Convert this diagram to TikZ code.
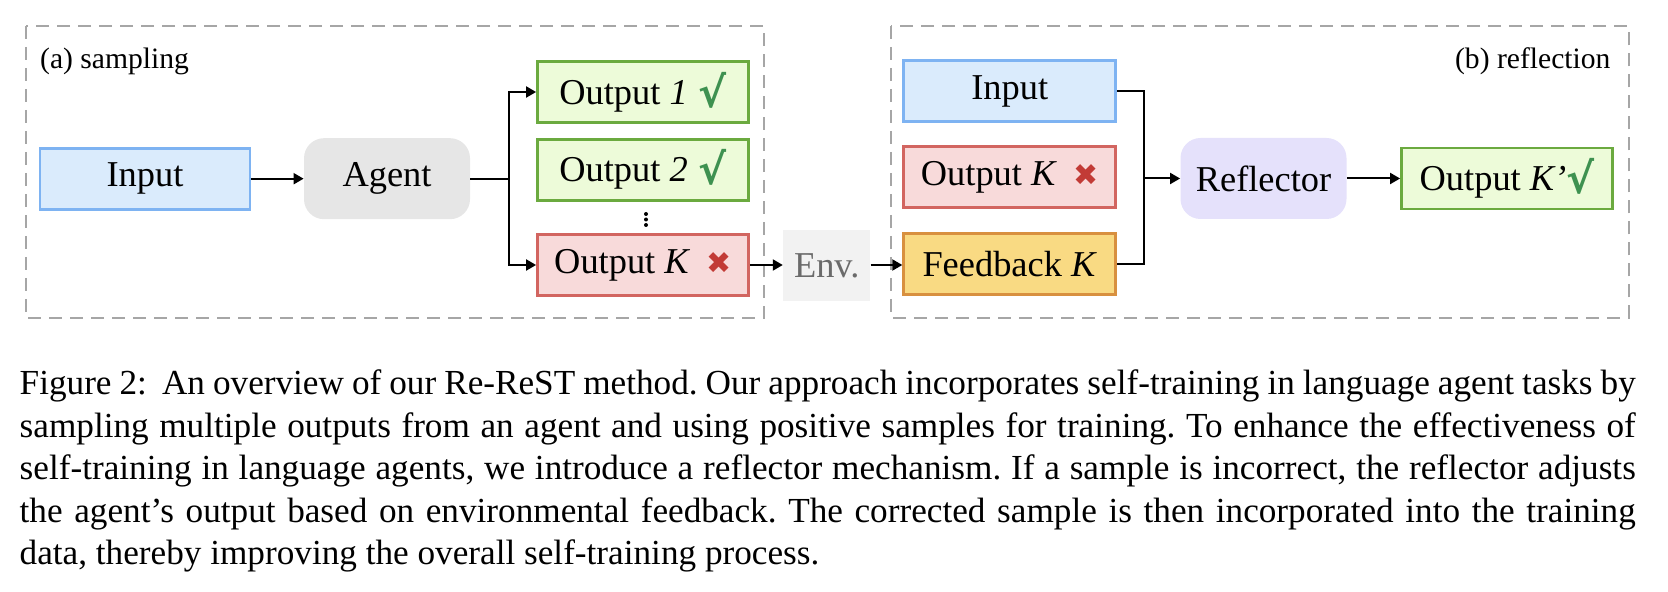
\documentclass[tikz,border=0pt]{standalone}
\usepackage{fontspec}
\setmainfont{Liberation Serif}
\newfontfamily\djv{DejaVu Sans}
\usetikzlibrary{arrows.meta,calc}
\definecolor{inBd}{HTML}{7EB3F2}
\definecolor{inBf}{HTML}{DAEBFC}
\definecolor{agG}{HTML}{E6E6E6}
\definecolor{grD}{HTML}{6BAA3F}
\definecolor{grF}{HTML}{EDFBD9}
\definecolor{rdD}{HTML}{D26560}
\definecolor{rdF}{HTML}{F8DADA}
\definecolor{ylD}{HTML}{D8903F}
\definecolor{ylF}{HTML}{F9DA83}
\definecolor{envF}{HTML}{F2F2F2}
\definecolor{envT}{HTML}{6B6B6B}
\definecolor{lavF}{HTML}{E5E1FB}
\definecolor{chkG}{HTML}{3E9150}
\definecolor{crsR}{HTML}{C23B36}
\definecolor{frG}{HTML}{A6A6A6}
\newcommand{\bxfont}{\fontsize{18.2}{21.8}\selectfont}
\newcommand{\lbfont}{\fontsize{14.8}{17.8}\selectfont}
\newcommand{\cpfont}{\fontsize{17.6}{21.3}\selectfont\frenchspacing\tolerance=9999\hyphenpenalty=10000\relax}
\newcommand{\chkm}{\raisebox{-1.5pt}{\color{chkG}\djv\bfseries\fontsize{21}{21}\selectfont √}}
\newcommand{\crs}{{\color{crsR}\djv\fontsize{15}{15}\selectfont ✖}}
\tikzset{
  box/.style={draw, line width=1.4pt, minimum width=105.5pt, minimum height=30.5pt, inner sep=0pt, font=\bxfont},
  bluebox/.style={box, draw=inBd, fill=inBf},
  greenbox/.style={box, draw=grD, fill=grF},
  redbox/.style={box, draw=rdD, fill=rdF},
  yellowbox/.style={box, draw=ylD, fill=ylF},
  roundbox/.style={rounded corners=10pt, minimum width=83pt, minimum height=40.5pt, inner sep=0pt, font=\bxfont},
  envbox/.style={fill=envF, text=envT, minimum width=43.5pt, minimum height=35.5pt, inner sep=0pt, font=\bxfont},
  arr/.style={line width=1pt, -{Triangle[length=5pt,width=5.5pt]}},
  ln/.style={line width=1pt},
  frame/.style={draw=frG, line width=1pt, dash pattern=on 6.5pt off 4pt},
}
\begin{document}
\begin{tikzpicture}[x=0.5pt,y=-0.5pt]
\useasboundingbox (0,0) rectangle (1668,592);
% frames
\draw[frame] (26,26) rectangle (764,318);
\draw[frame] (891,26) rectangle (1628.5,318);
\node[anchor=base west, inner sep=0pt, font=\lbfont] (la) at (39.8,68.3) {(a) sampling};
\node[anchor=base east, inner sep=0pt, font=\lbfont] (lb) at (1610.8,68.3) {(b) reflection};
% sampling
\node[bluebox, minimum width=105pt] (in1) at (145,178.7) {Input};
\node[roundbox, fill=agG] (ag) at (387,178.7) {Agent};
\node[greenbox] (o1) at (643,92) {Output \textit{1}\hspace{0.3em}\chkm};
\node[greenbox] (o2) at (643,169.7) {Output \textit{2}\hspace{0.3em}\chkm};
\node[redbox] (ok) at (643,265) {Output \textit{K}\hspace{0.45em}\crs};
\coordinate (dots) at (646,219.5);
\fill ($(dots)+(0,-5.5)$) circle[radius=1pt];
\fill (dots) circle[radius=1pt];
\fill ($(dots)+(0,5.5)$) circle[radius=1pt];
\node[envbox] (env) at (826.7,265.5) {Env.};
% reflection
\node[bluebox, minimum width=106pt] (in2) at (1009.7,91) {Input};
\node[redbox, minimum width=106pt] (ok2) at (1009.7,177.3) {Output \textit{K}\hspace{0.45em}\crs};
\node[yellowbox, minimum width=106pt] (fb) at (1009.7,264) {Feedback \textit{K}};
\node[roundbox, fill=lavF] (rf) at (1263.5,178.5) {Reflector};
\node[greenbox] (okp) at (1507,178.5) {Output \textit{K’}\chkm};
% connectors
\coordinate (br1) at (509,178.7);
\coordinate (br2) at (1143.5,178.5);
\draw[arr] (in1.east) -- (ag.west);
\draw[ln] (ag.east) -- (br1);
\draw[arr] (br1) |- (o1.west);
\draw[arr] (br1) |- (ok.west);
\draw[arr] (ok.east) -- (ok.east -| env.west);
\draw[arr] (ok.east -| env.east) -- (ok.east -| fb.west);
\draw[ln] (in2.east) -| (br2);
\draw[ln] (fb.east) -| (br2);
\draw[arr] (br2) -- (rf.west);
\draw[arr] (rf.east) -- (rf.east -| okp.west);
% caption
\node[anchor=base west, inner sep=0pt, text width=808pt, align=justify, font=\cpfont] (cap) at (19.3,394.5) {%
Figure 2:\hspace{0.2em} An overview of our Re-ReST method. Our approach incorporates self-training in language agent tasks by\linebreak
sampling multiple outputs from an agent and using positive samples for training. To enhance the effectiveness of\linebreak
self-training in language agents, we introduce a reflector mechanism. If a sample is incorrect, the reflector adjusts\linebreak
the agent’s output based on environmental feedback. The corrected sample is then incorporated into the training\linebreak
data, thereby improving the overall self-training process.};
\end{tikzpicture}
\end{document}
